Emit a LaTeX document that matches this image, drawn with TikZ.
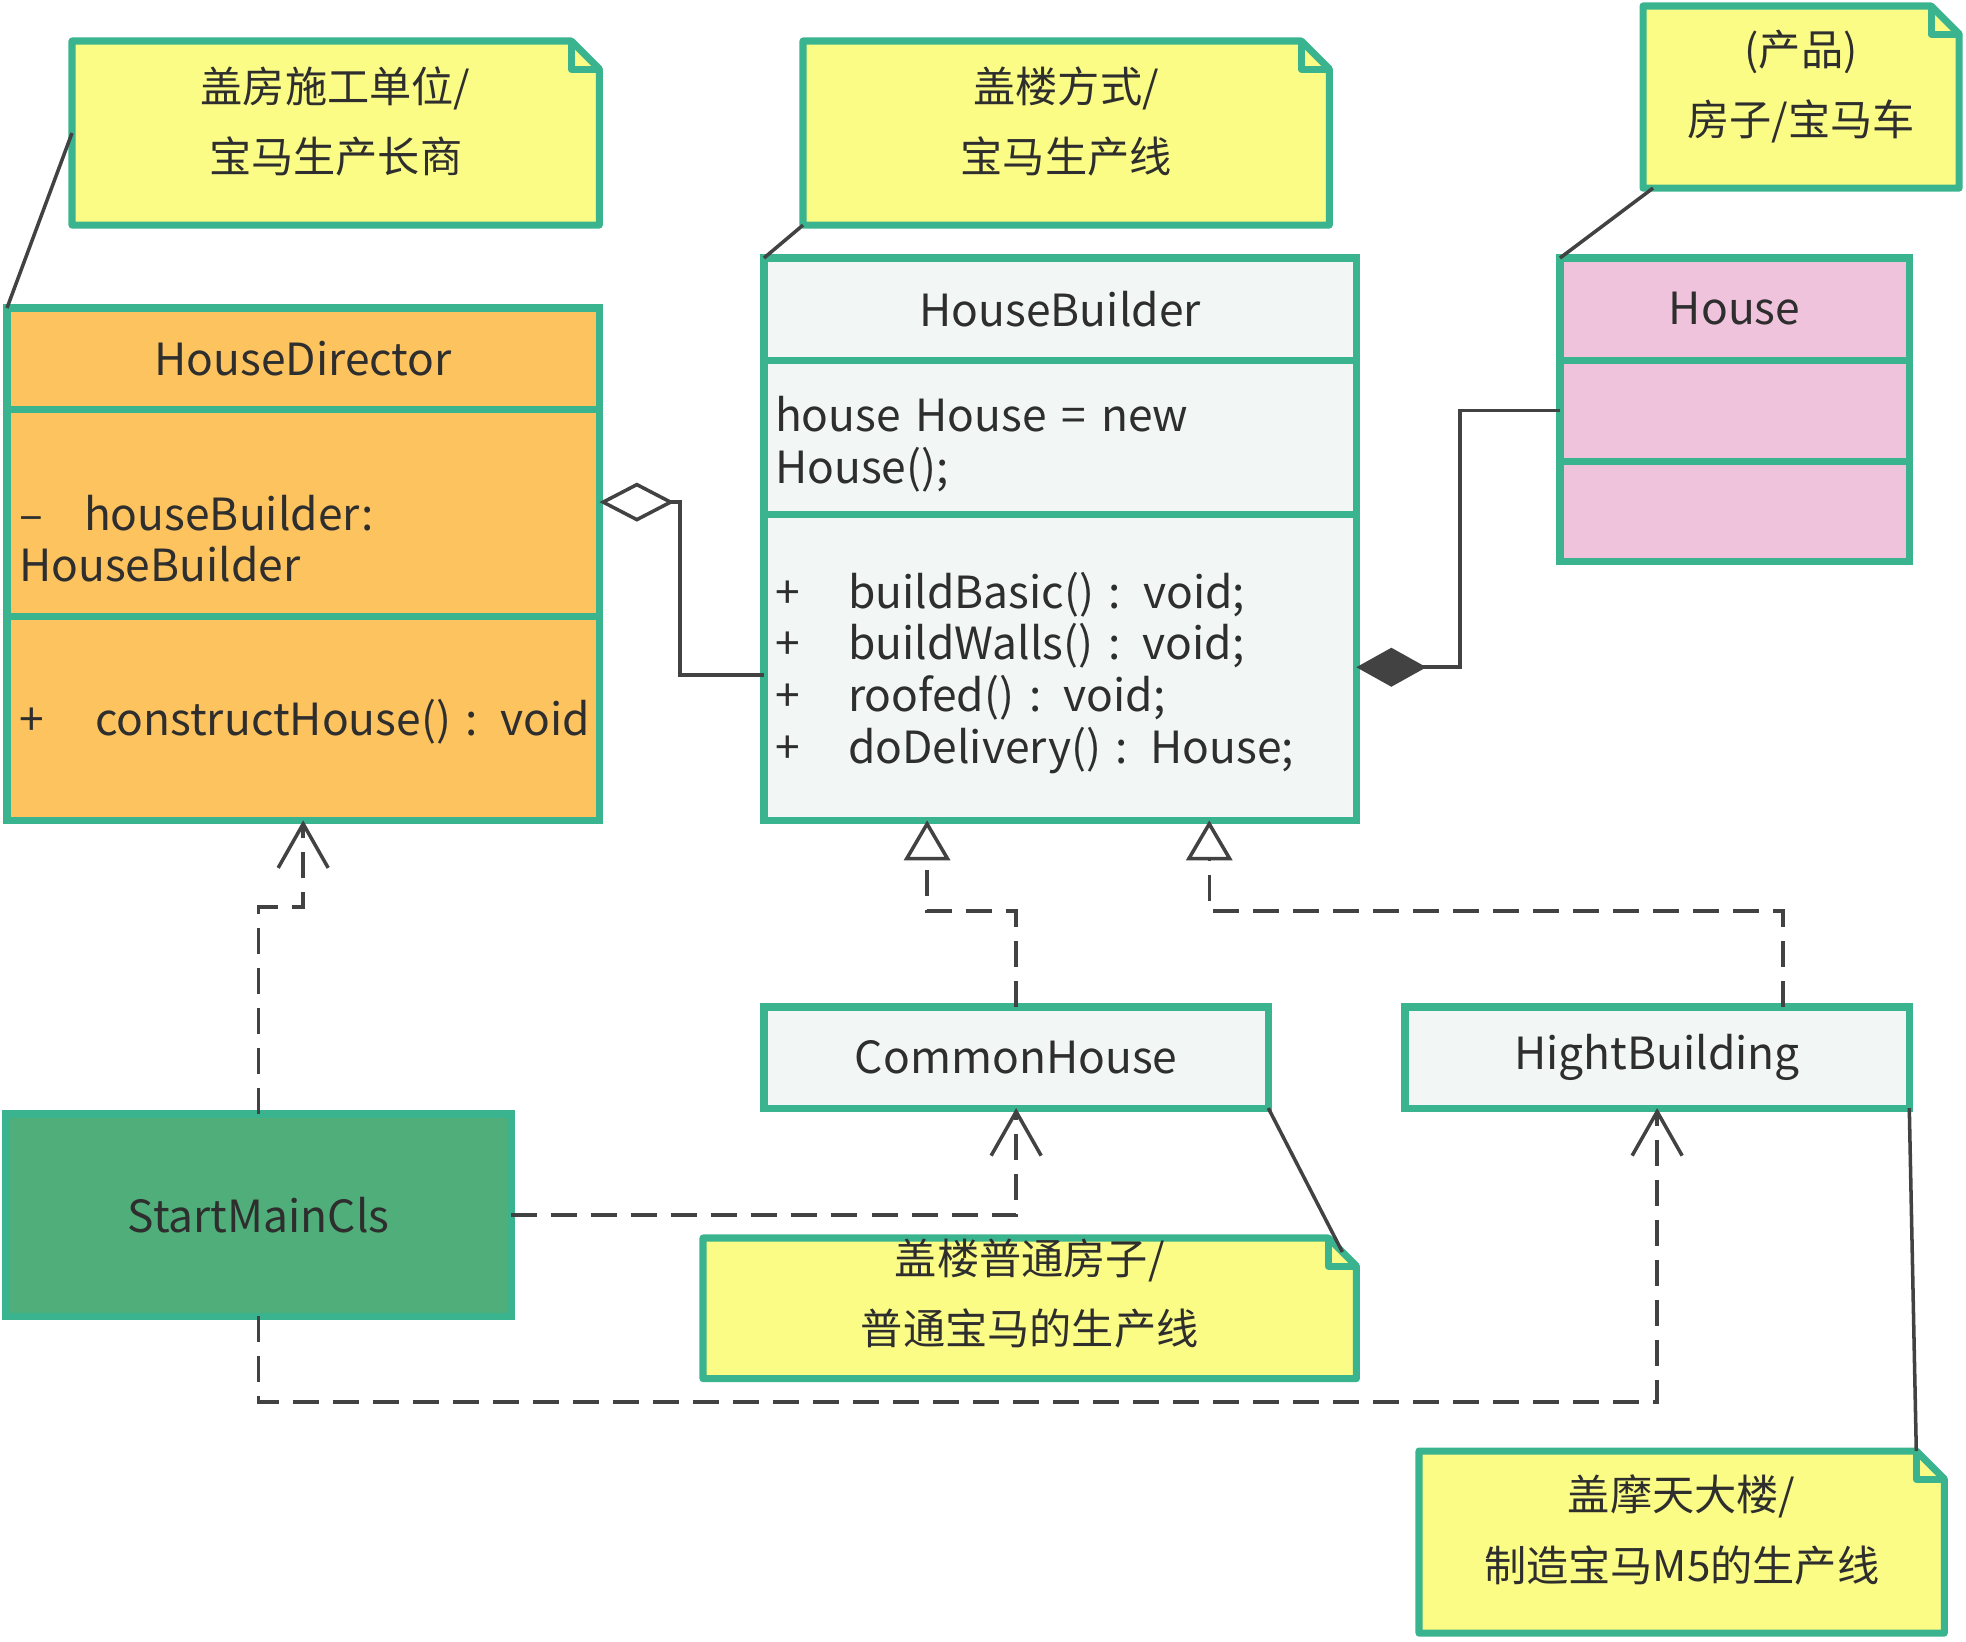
\documentclass[tikz,border=0pt]{standalone}
\usepackage{fontspec}
\setmainfont{Noto Sans CJK SC}[WordSpace=0.8]
\usetikzlibrary{positioning,arrows.meta,backgrounds}

\definecolor{umlgreen}{HTML}{3AB48E}
\definecolor{notefill}{HTML}{FBFC85}
\definecolor{dirfill}{HTML}{FDC35F}
\definecolor{clsfill}{HTML}{F2F7F5}
\definecolor{prodfill}{HTML}{F0C3DD}
\definecolor{mainfill}{HTML}{4FAE7A}
\definecolor{linegray}{HTML}{424242}
\definecolor{ink}{HTML}{2E2E2E}

\newcommand\notefold{0.28cm}
\newcommand\notelines[3][0.1cm]{\raisebox{#1}[\height][\depth]{\begin{tabular}{@{}c@{}}#2\\#3\end{tabular}}}
\newcommand\memberrows[2][0pt]{\raisebox{#1}[\height][\depth]{\begin{tabular}{@{}l@{}}#2\end{tabular}}}

\tikzset{
  sect/.style={draw=umlgreen, line width=2pt, outer sep=0pt, inner sep=0pt,
    text=ink, font=\fontsize{12.6}{14.5}\selectfont},
  members/.style={sect, align=left, text width=#1},
  note/.style={outer sep=0pt, inner sep=0pt, text=ink, font=\fontsize{12}{20}\selectfont},
  notebox/.style={draw=umlgreen, fill=notefill, line width=2pt, line join=round},
  link/.style={draw=linegray, line width=1pt},
  dep/.style={link, dash pattern=on 0.26cm off 0.14cm,
    -{Straight Barb[length=0.44cm,width=0.5cm]}},
  realize/.style={link, dash pattern=on 0.26cm off 0.14cm,
    -{Triangle[open,length=0.4cm,width=0.46cm,fill=white]}},
  aggr/.style={link, -{Diamond[open,length=0.75cm,width=0.39cm,fill=white]}},
  compo/.style={link, -{Diamond[length=0.7cm,width=0.39cm]}}
}

\begin{document}
\begin{tikzpicture}[x=0.01cm, y=-0.01cm]
  \useasboundingbox (0,0) rectangle (1966,1642);

  % HouseDirector
  \node[sect, fill=dirfill, anchor=north west, minimum width=5.92cm, minimum height=1.01cm] (hdtitle) at (7,308) {HouseDirector};
  \node[members=5.68cm, fill=dirfill, below=0pt of hdtitle, minimum width=5.92cm, minimum height=2.07cm] (hdattr)
    {\memberrows[-0.33cm]{\makebox[0.65cm][l]{–}houseBuilder:\\HouseBuilder}};
  \node[members=5.68cm, fill=dirfill, below=0pt of hdattr, minimum width=5.92cm, minimum height=2.04cm] (hdops)
    {\memberrows[-0.07cm]{\makebox[0.76cm][l]{+}constructHouse() : void}};

  % HouseBuilder
  \node[sect, fill=clsfill, anchor=north west, minimum width=5.92cm, minimum height=1.02cm] (hbtitle) at (764,258) {HouseBuilder};
  \node[members=5.70cm, fill=clsfill, below=0pt of hbtitle, minimum width=5.92cm, minimum height=1.54cm] (hbattr)
    {\memberrows[-0.1cm]{house House = new\\House();}};
  \node[members=5.70cm, fill=clsfill, below=0pt of hbattr, minimum width=5.92cm, minimum height=3.06cm] (hbops)
    {\memberrows[-0.08cm]{\makebox[0.73cm][l]{+}buildBasic() : void;\\
      \makebox[0.73cm][l]{+}buildWalls() : void;\\
      \makebox[0.73cm][l]{+}roofed() : void;\\
      \makebox[0.73cm][l]{+}doDelivery() : House;}};

  % House
  \node[sect, fill=prodfill, anchor=north west, minimum width=3.49cm, minimum height=1.02cm] (htitle) at (1560,258) {House};
  \node[sect, fill=prodfill, below=0pt of htitle, minimum width=3.49cm, minimum height=1.01cm] (hattr) {};
  \node[sect, fill=prodfill, below=0pt of hattr, minimum width=3.49cm, minimum height=1.00cm] (hops) {};

  % concrete builders and client
  \node[sect, fill=clsfill, anchor=north west, minimum width=5.04cm, minimum height=1.01cm] (ch) at (764,1007) {CommonHouse};
  \node[sect, fill=clsfill, anchor=north west, minimum width=5.04cm, minimum height=1.01cm] (hib) at (1405,1007) {HightBuilding};
  \node[sect, fill=mainfill, anchor=north west, minimum width=5.05cm, minimum height=2.02cm] (smc) at (6,1114) {StartMainCls};

  % notes
  \node[note, anchor=north west, minimum width=5.27cm, minimum height=1.84cm] (n1) at (72,41)
    {\notelines[0.095cm]{盖房施工单位/}{宝马生产长商}};
  \node[note, anchor=north west, minimum width=5.26cm, minimum height=1.84cm] (n2) at (803,41)
    {\notelines[0.095cm]{盖楼方式/}{宝马生产线}};
  \node[note, anchor=north west, minimum width=3.16cm, minimum height=1.82cm] (n3) at (1643,6)
    {\notelines[0.105cm]{(产品)}{房子/宝马车}};
  \node[note, anchor=north west, minimum width=6.53cm, minimum height=1.36cm] (n4) at (703,1238)
    {\notelines[0.13cm]{盖楼普通房子/}{普通宝马的生产线}};
  \node[note, anchor=north west, minimum width=5.25cm, minimum height=1.82cm] (n5) at (1419,1451)
    {\notelines[0.1cm]{盖摩天大楼/}{制造宝马M5的生产线}};

  \begin{scope}[on background layer]
    \foreach \n in {n1,n2,n3,n4,n5} {
      \filldraw[notebox] (\n.north west) -- ([xshift=-\notefold]\n.north east)
        -- ([yshift=-\notefold]\n.north east) -- (\n.south east) -- (\n.south west) -- cycle;
      \draw[notebox, fill=none] ([xshift=-\notefold]\n.north east) |- ([yshift=-\notefold]\n.north east);
    }
  \end{scope}

  % note anchors
  \draw[link] (n1.west) -- (hdtitle.north west);
  \draw[link] (n2.south west) -- (hbtitle.north west);
  \draw[link] ([xshift=0.1cm]n3.south west) -- (htitle.north west);
  \draw[link] (ch.south east) -- ([xshift=-0.14cm,yshift=-0.14cm]n4.north east);
  \draw[link] (hib.south east) -- ([xshift=-\notefold]n5.north east);

  % relations
  \draw[aggr] ([yshift=-0.08cm]hbops.west) -- ++(-0.84cm,0) |- ([yshift=0.105cm]hdattr.east);
  \draw[compo] (hattr.west) -- ++(-1.0cm,0) |- (hbops.east);
  \draw[realize] (ch.north) -- ++(0,0.96cm) -| ([xshift=-1.33cm]hbops.south);
  \draw[realize] ([xshift=1.26cm]hib.north) -- ++(0,0.96cm) -| ([xshift=1.49cm]hbops.south);
  \draw[dep] (smc.north) -- ++(0,2.07cm) -| (hdops.south);
  \draw[dep] (smc.east) -| (ch.south);
  \draw[dep] (smc.south) -- ++(0,-0.86cm) -| (hib.south);
\end{tikzpicture}
\end{document}
